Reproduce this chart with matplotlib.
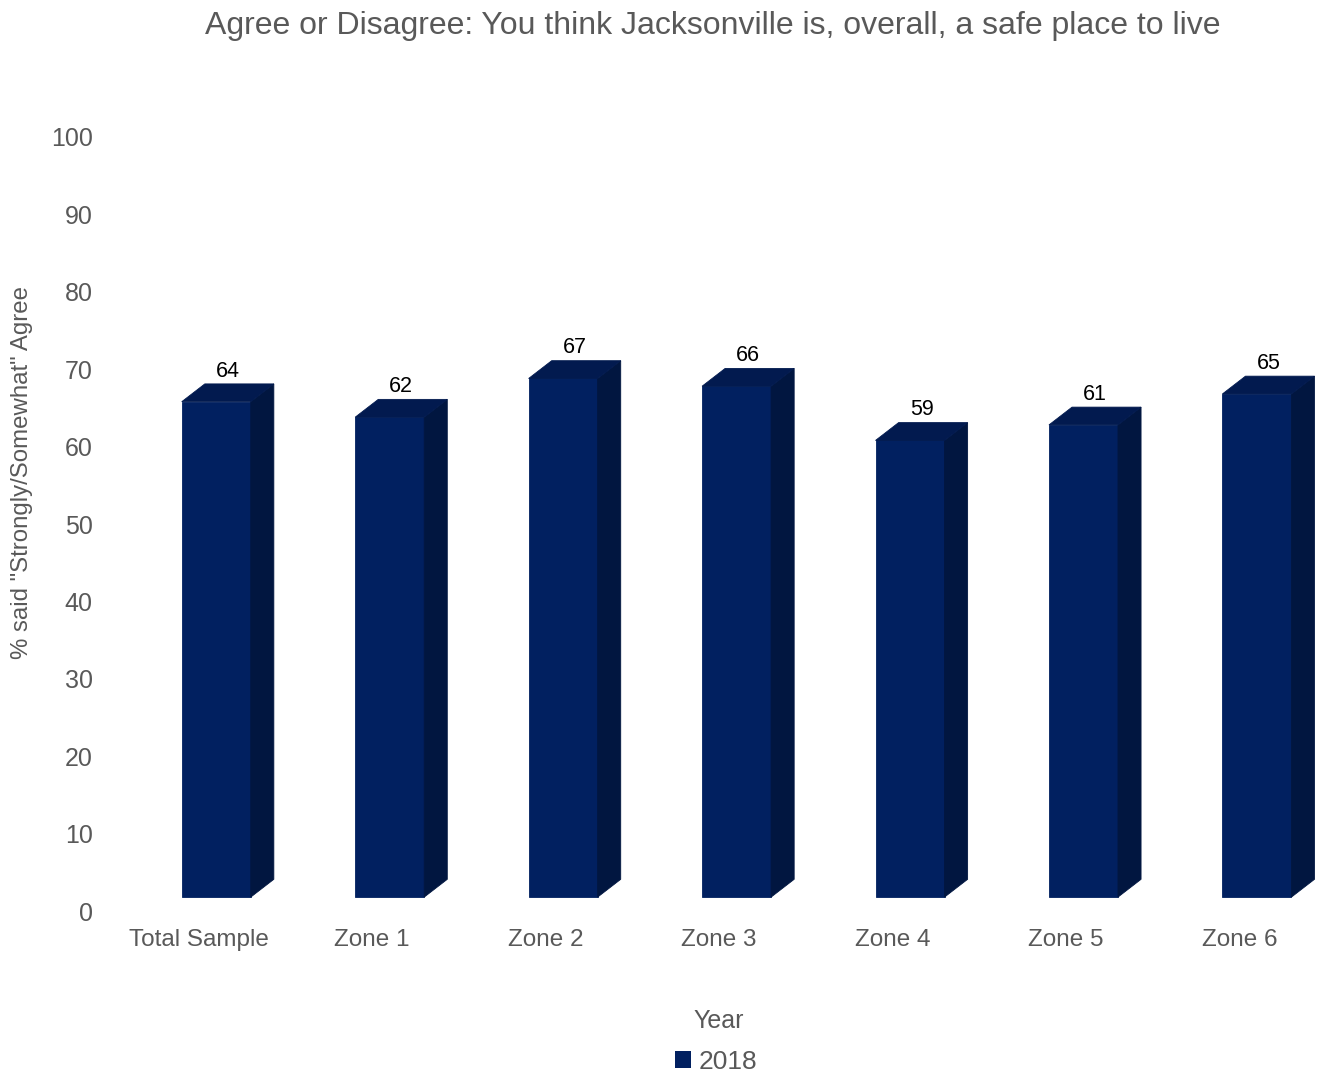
import matplotlib
matplotlib.use("Agg")
import matplotlib.pyplot as plt
from matplotlib.patches import Polygon, Patch

plt.rcParams['font.family'] = ['Liberation Sans', 'DejaVu Sans']

categories = ["Total Sample", "Zone 1", "Zone 2", "Zone 3", "Zone 4", "Zone 5", "Zone 6"]
values_2018 = [64, 62, 67, 66, 59, 61, 65]
series_name = "2018"

front_c = "#012060"
side_c = "#011640"
top_c = "#021a4f"
grey = "#595959"

# pseudo 3d geometry (data units)
x0, x1 = -0.098, 0.300   # front face relative to category
dx, dy = 0.133, 2.3      # depth offset
base = 1.8

fig = plt.figure(figsize=(13.24, 10.76), dpi=100)
ax = fig.add_axes([0.0846, 0.1533, 0.917, 0.7194])

for i, v in enumerate(values_2018):
    l, r = i + x0, i + x1
    b, t = base, v + base
    faces = [
        ([(l, b), (r, b), (r, t), (l, t)], front_c),
        ([(r, b), (r + dx, b + dy), (r + dx, t + dy), (r, t)], side_c),
        ([(l, t), (r, t), (r + dx, t + dy), (l + dx, t + dy)], top_c),
    ]
    for pts, c in faces:
        ax.add_patch(Polygon(pts, closed=True, facecolor=c, edgecolor=c, linewidth=0.6))
    ax.text((l + r) / 2 + dx / 2, t + dy + 0.3, str(v), ha="center", va="bottom",
            fontsize=15.5, color="black")

ax.set_xlim(-0.5, 6.5)
ax.set_ylim(0, 100)
ax.set_yticks(range(0, 101, 10))
ax.set_xticks(range(len(categories)))
ax.set_xticklabels(categories)
ax.tick_params(axis="y", length=0, labelsize=18, labelcolor=grey, pad=14)
ax.tick_params(axis="x", length=0, labelsize=17.5, labelcolor=grey, pad=13)
for s in ax.spines.values():
    s.set_visible(False)

ax.set_ylabel('% said "Strongly/Somewhat" Agree', fontsize=17.3, color=grey)
ax.yaxis.set_label_coords(-0.065, 0.566)
ax.set_xlabel("Year", fontsize=18, color=grey, labelpad=42)

fig.suptitle("Agree or Disagree: You think Jacksonville is, overall, a safe place to live",
             x=0.538, y=0.99, va="top", fontsize=23, color=grey)

fig.legend(handles=[Patch(facecolor=front_c, label=series_name)], loc="center",
           bbox_to_anchor=(0.541, 0.013), frameon=False, fontsize=19,
           labelcolor=grey, handlelength=0.6, handleheight=0.6, handletextpad=0.3)

fig.savefig("out.png", dpi=100)
